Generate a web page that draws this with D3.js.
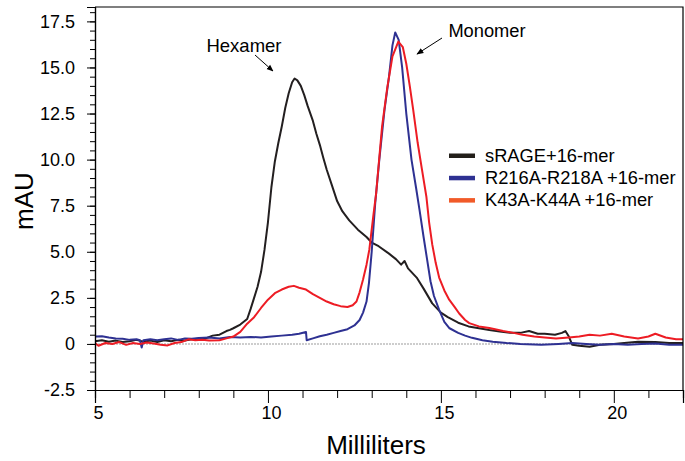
<!DOCTYPE html>
<html>
<head>
<meta charset="utf-8">
<script src="https://cdn.jsdelivr.net/npm/d3@7"></script>
<style>
    body { margin: 0; background: #fff; }
    text { font-family: "Liberation Sans", Arial, sans-serif; }
</style>
</head>
<body>
<div id="main"></div>
<script>
const ctx = {
    w: 685,
    h: 461,
    left: 95,
    right: 683,
    top: 7,
    bottom: 390,
};

// elution volume (mL) / absorbance (mAU)
const SRAGE_X = [5.0, 5.2, 5.4, 5.6, 5.8, 6.0, 6.2, 6.4, 6.6, 6.8, 7.0, 7.2, 7.4, 7.6, 7.8, 8.0, 8.2, 8.4, 8.6, 8.8, 8.9, 9.0, 9.2, 9.4, 9.5, 9.6, 9.7, 9.8, 9.9, 10.0, 10.1, 10.2, 10.3, 10.4, 10.5, 10.6, 10.7, 10.77, 10.85, 10.95, 11.05, 11.15, 11.3, 11.4, 11.5, 11.6, 11.7, 11.85, 12.0, 12.15, 12.35, 12.6, 12.85, 13.0, 13.2, 13.5, 13.7, 13.85, 13.95, 14.05, 14.3, 14.5, 14.75, 15.0, 15.2, 15.5, 15.8, 16.1, 16.4, 16.7, 17.0, 17.3, 17.55, 17.8, 18.0, 18.3, 18.5, 18.6, 18.7, 18.8, 19.0, 19.3, 19.6, 20.0, 20.3, 20.7, 21.2, 21.6, 22.0];
const SRAGE_Y = [0.15, 0.2, 0.12, 0.18, 0.1, 0.15, 0.22, 0.12, 0.18, 0.1, 0.2, 0.14, 0.22, 0.18, 0.25, 0.28, 0.3, 0.45, 0.5, 0.7, 0.76, 0.85, 1.05, 1.35, 1.9, 2.5, 3.1, 3.9, 5.1, 6.6, 8.5, 9.9, 10.9, 11.8, 12.8, 13.6, 14.2, 14.4, 14.3, 14.0, 13.5, 12.9, 12.1, 11.4, 10.8, 10.1, 9.45, 8.6, 7.75, 7.2, 6.7, 6.2, 5.8, 5.5, 5.3, 4.9, 4.6, 4.3, 4.5, 4.1, 3.6, 3.0, 2.2, 1.7, 1.45, 1.15, 0.95, 0.85, 0.75, 0.68, 0.6, 0.6, 0.7, 0.55, 0.55, 0.5, 0.6, 0.7, 0.4, -0.05, -0.1, -0.15, -0.05, 0.0, 0.05, 0.12, 0.1, 0.05, 0.05];

const R216_X = [5.0, 5.2, 5.4, 5.6, 5.8, 6.0, 6.2, 6.3, 6.35, 6.4, 6.6, 6.8, 7.0, 7.2, 7.4, 7.6, 7.8, 8.0, 8.3, 8.6, 8.9, 9.2, 9.5, 9.8, 10.1, 10.4, 10.7, 10.9, 11.1, 11.12, 11.3, 11.5, 11.7, 11.9, 12.1, 12.3, 12.5, 12.65, 12.75, 12.85, 12.92, 13.0, 13.1, 13.22, 13.37, 13.5, 13.6, 13.68, 13.78, 13.88, 14.0, 14.15, 14.28, 14.38, 14.5, 14.6, 14.7, 14.8, 14.95, 15.1, 15.25, 15.5, 15.7, 15.9, 16.2, 16.5, 16.9, 17.3, 17.9, 18.4, 18.8, 19.2, 19.6, 20.0, 20.4, 20.8, 21.2, 21.6, 22.0];
const R216_Y = [0.4, 0.42, 0.35, 0.3, 0.28, 0.22, 0.25, 0.2, -0.2, 0.2, 0.25, 0.2, 0.25, 0.3, 0.22, 0.3, 0.28, 0.32, 0.35, 0.3, 0.38, 0.35, 0.38, 0.35, 0.4, 0.45, 0.5, 0.55, 0.65, 0.2, 0.3, 0.42, 0.5, 0.6, 0.7, 0.8, 1.0, 1.3, 1.7, 2.3, 3.3, 5.0, 7.6, 10.0, 12.7, 14.5, 16.2, 16.9, 16.5, 15.0, 12.5, 10.0, 8.5, 7.3, 5.8, 4.6, 3.4, 2.6, 1.85, 1.2, 0.85, 0.6, 0.45, 0.33, 0.2, 0.12, 0.05, 0.0, -0.05, 0.0, 0.05, 0.0, -0.05, 0.0, -0.05, 0.0, 0.02, -0.05, -0.05];

const K43_X = [5.0, 5.1, 5.3, 5.5, 5.7, 5.9, 6.1, 6.3, 6.5, 6.7, 6.9, 7.1, 7.3, 7.5, 7.7, 7.9, 8.1, 8.3, 8.6, 8.8, 9.0, 9.2, 9.4, 9.6, 9.8, 10.0, 10.2, 10.4, 10.6, 10.75, 10.9, 11.1, 11.3, 11.5, 11.7, 11.9, 12.1, 12.3, 12.45, 12.56, 12.65, 12.75, 12.85, 12.93, 13.05, 13.13, 13.3, 13.45, 13.6, 13.77, 13.9, 14.0, 14.1, 14.2, 14.33, 14.45, 14.58, 14.66, 14.75, 14.85, 14.95, 15.1, 15.24, 15.4, 15.53, 15.7, 15.82, 16.1, 16.4, 16.8, 17.1, 17.36, 17.7, 18.0, 18.33, 18.7, 19.0, 19.3, 19.6, 19.94, 20.3, 20.7, 21.0, 21.2, 21.5, 21.8, 22.0];
const K43_Y = [0.05, -0.1, 0.05, 0.0, 0.1, -0.05, 0.05, 0.0, 0.08, 0.02, -0.05, -0.08, 0.05, 0.1, 0.25, 0.2, 0.22, 0.18, 0.2, 0.3, 0.4, 0.65, 1.1, 1.45, 1.95, 2.4, 2.75, 2.95, 3.1, 3.15, 3.05, 2.95, 2.7, 2.5, 2.3, 2.15, 2.05, 2.0, 2.1, 2.3, 2.8, 3.5, 4.3, 5.1, 7.0, 8.2, 11.8, 13.9, 15.6, 16.4, 16.1, 15.2, 14.0, 12.7, 10.9, 9.5, 8.0, 6.6, 5.4, 4.4, 3.6, 2.9, 2.4, 2.0, 1.65, 1.3, 1.13, 0.95, 0.86, 0.7, 0.6, 0.5, 0.4, 0.35, 0.3, 0.35, 0.4, 0.5, 0.45, 0.55, 0.4, 0.3, 0.4, 0.55, 0.35, 0.25, 0.25];

const SERIES = ["sRAGE+16-mer", "R216A-R218A +16-mer", "K43A-K44A +16-mer"];
const LINE_COLORS = ["#231f20", "#2e3192", "#ed1c24"];
const SWATCH_COLORS = ["#231f1a", "#2e3192", "#f15a29"];

const X_TICKS = [5, 10, 15, 20];
const Y_TICKS = [-2.5, 0, 2.5, 5, 7.5, 10, 12.5, 15, 17.5];
const Y_LABELS = ["-2.5", "0", "2.5", "5.0", "7.5", "10.0", "12.5", "15.0", "17.5"];

function zip(xs, ys) {
    return xs.map((x, i) => ({x: x, y: ys[i]}));
}

function createViz() {
    let svgEl = d3.select("#main").append("svg")
        .attr("width", ctx.w)
        .attr("height", ctx.h);

    let x = d3.scaleLinear().domain([5, 22]).range([ctx.left, ctx.right]);
    let y = d3.scaleLinear().domain([-2.5, 18.28]).range([ctx.bottom, ctx.top]);

    svgEl.append("clipPath").attr("id", "plotClip")
        .append("rect")
        .attr("x", ctx.left).attr("y", ctx.top)
        .attr("width", ctx.right - ctx.left).attr("height", ctx.bottom - ctx.top);

    // dotted zero line
    svgEl.append("line")
        .attr("x1", ctx.left).attr("x2", ctx.right)
        .attr("y1", y(0)).attr("y2", y(0))
        .style("stroke", "#bdbdbd")
        .style("stroke-width", 1.5)
        .style("stroke-dasharray", "2,1");

    let line = d3.line().x(d => x(d.x)).y(d => y(d.y));
    let data = [zip(SRAGE_X, SRAGE_Y), zip(R216_X, R216_Y), zip(K43_X, K43_Y)];

    svgEl.append("g").attr("clip-path", "url(#plotClip)")
        .selectAll("path.trace")
        .data(data)
        .enter()
        .append("path")
        .attr("class", "trace")
        .attr("d", line)
        .style("fill", "none")
        .style("stroke", (d, i) => LINE_COLORS[i])
        .style("stroke-width", 2)
        .style("stroke-linejoin", "round");

    // frame: top + right
    svgEl.append("path")
        .attr("d", `M${ctx.left},${ctx.top}H${ctx.right}V${ctx.bottom}`)
        .style("fill", "none")
        .style("stroke", "#000")
        .style("stroke-width", 1.2);

    // x axis
    let xMinor = svgEl.append("g")
        .attr("transform", `translate(0,${ctx.bottom})`)
        .call(d3.axisBottom(x).tickValues(d3.range(6, 23, 1).filter(v => v % 5 != 0))
                .tickSize(8).tickFormat(""));
    let xAxis = svgEl.append("g")
        .attr("transform", `translate(0,${ctx.bottom})`)
        .call(d3.axisBottom(x).tickValues(X_TICKS).tickSize(13).tickPadding(3));
    xAxis.selectAll("text")
        .attr("dx", 3)
        .style("font-size", "18px")
        .style("fill", "#000");

    // y axis
    let yMinor = svgEl.append("g")
        .attr("transform", `translate(${ctx.left},0)`)
        .call(d3.axisLeft(y).tickValues(d3.range(-2.5, 18.3, 0.5)).tickSize(5).tickFormat(""));
    let yAxis = svgEl.append("g")
        .attr("transform", `translate(${ctx.left},0)`)
        .call(d3.axisLeft(y).tickValues(Y_TICKS).tickSize(8).tickPadding(12)
                .tickFormat((d, i) => Y_LABELS[i]));
    yAxis.selectAll("text")
        .style("font-size", "18px")
        .style("fill", "#000");

    [xMinor, xAxis, yMinor, yAxis].forEach(g => {
        g.selectAll(".domain").style("stroke", "#000").style("stroke-width", 1.2);
        g.selectAll(".tick line").style("stroke", "#000").style("stroke-width", 1);
    });

    // axis titles
    svgEl.append("text")
        .attr("x", 376).attr("y", 454)
        .attr("text-anchor", "middle")
        .style("font-size", "26px")
        .text("Milliliters");
    svgEl.append("text")
        .attr("transform", "translate(33,201) rotate(-90)")
        .attr("text-anchor", "middle")
        .style("font-size", "26px")
        .text("mAU");

    // legend
    let legend = svgEl.append("g").attr("id", "legend");
    let rows = legend.selectAll("g")
        .data(SERIES)
        .enter()
        .append("g")
        .attr("transform", (d, i) => `translate(449,${161.5 + i * 22.3})`);
    rows.append("rect")
        .attr("x", 0).attr("y", -8)
        .attr("width", 26).attr("height", 4.5)
        .style("fill", (d, i) => SWATCH_COLORS[i]);
    rows.append("text")
        .attr("x", 36).attr("y", 0)
        .style("font-size", "18.3px")
        .text(d => d);

    // peak annotations
    svgEl.append("defs").append("marker")
        .attr("id", "head")
        .attr("viewBox", "0 0 10 10")
        .attr("refX", 9).attr("refY", 5)
        .attr("markerWidth", 7).attr("markerHeight", 7)
        .attr("orient", "auto")
        .append("path")
        .attr("d", "M0,1L10,5L0,9z")
        .style("fill", "#000");

    svgEl.append("text")
        .attr("x", 244).attr("y", 52)
        .attr("text-anchor", "middle")
        .style("font-size", "18.5px")
        .text("Hexamer");
    svgEl.append("line")
        .attr("x1", 255).attr("y1", 55)
        .attr("x2", 273).attr("y2", 71)
        .style("stroke", "#000").style("stroke-width", 1)
        .attr("marker-end", "url(#head)");

    svgEl.append("text")
        .attr("x", 487).attr("y", 37)
        .attr("text-anchor", "middle")
        .style("font-size", "18.3px")
        .text("Monomer");
    svgEl.append("line")
        .attr("x1", 442).attr("y1", 38)
        .attr("x2", 417).attr("y2", 54)
        .style("stroke", "#000").style("stroke-width", 1)
        .attr("marker-end", "url(#head)");
}

createViz();
</script>
</body>
</html>
